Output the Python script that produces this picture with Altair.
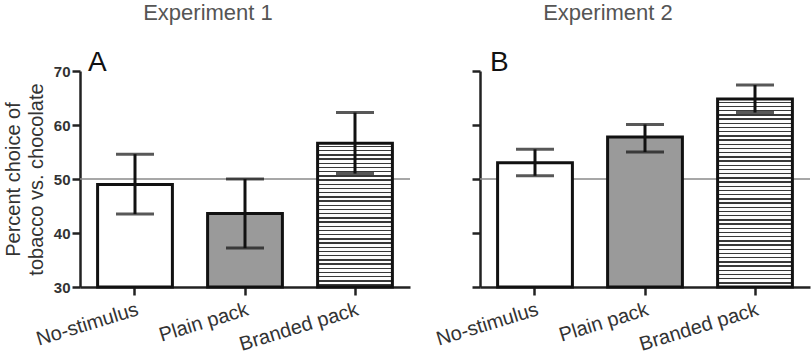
import altair as alt
import pandas as pd

categories = ["No-stimulus", "Plain pack", "Branded pack"]
exp1_mean = [49.0, 43.6, 56.6]
exp1_low = [43.5, 37.2, 51.0]
exp1_high = [54.6, 50.0, 62.3]
exp2_mean = [53.0, 57.8, 64.8]
exp2_low = [50.6, 55.0, 62.3]
exp2_high = [55.5, 60.1, 67.4]
panel_titles = ["Experiment 1", "Experiment 2"]
panel_letters = ["A", "B"]
y_ticks = [30, 40, 50, 60, 70]
reference_value = [50]
y_title = ["Percent choice of", "tobacco vs. chocolate"]

W, H = 330, 216
Y_MIN, Y_MAX = 30, 70
FONT = "Liberation Sans"


def stripes(value):
    h = (value - Y_MIN) / (Y_MAX - Y_MIN) * H
    period, thick, dark = 4.2, 1.4, "#3a3a3a"
    stops = [{"offset": 0, "color": "white"}]
    pos = 2.5
    while pos + thick < h - 1:
        a, b = pos / h, (pos + thick) / h
        stops += [
            {"offset": a, "color": "white"},
            {"offset": a, "color": dark},
            {"offset": b, "color": dark},
            {"offset": b, "color": "white"},
        ]
        pos += period
    stops.append({"offset": 1, "color": "white"})
    return {"gradient": "linear", "x1": 0, "y1": 0, "x2": 0, "y2": 1, "stops": stops}


def panel(means, lows, highs, title, letter, first, letter_x):
    df = pd.DataFrame({"cat": categories, "mean": means, "low": lows, "high": highs})
    base = alt.Chart(df)
    x = alt.X(
        "cat:N",
        sort=categories,
        scale=alt.Scale(domain=categories, paddingInner=0.32, paddingOuter=0.16),
        axis=alt.Axis(
            title=None,
            labelAngle=343,
            labelAlign="right",
            labelBaseline="top",
            labelFontSize=20,
            labelFont=FONT,
            labelColor="#333",
            labelPadding=4,
            tickSize=8,
            tickWidth=2.5,
            tickColor="#222",
            domainColor="#222",
            domainWidth=2.5,
        ),
    )
    yscale = alt.Scale(domain=[Y_MIN, Y_MAX], nice=False, zero=False)
    yaxis = alt.Axis(
        values=y_ticks,
        grid=False,
        labels=first,
        title=y_title if first else None,
        titleFontSize=20,
        titleFont=FONT,
        titleFontWeight="normal",
        titleColor="#333",
        titlePadding=7,
        titleLineHeight=23,
        labelFontSize=15,
        labelFontWeight="bold",
        labelFont=FONT,
        labelColor="#333",
        labelPadding=2,
        tickSize=8,
        tickWidth=2.5,
        tickColor="#222",
        domainColor="#222",
        domainWidth=2.5,
    )
    y = alt.Y("mean:Q", scale=yscale, axis=yaxis)

    ref = alt.Chart(pd.DataFrame({"v": reference_value})).mark_rule(
        color="#8a8a8a", strokeWidth=1.5
    ).encode(y=alt.Y("v:Q", scale=yscale))

    plain_bars = base.transform_filter(
        alt.datum.cat != "Branded pack"
    ).mark_bar(stroke="#111", strokeWidth=3).encode(
        x=x,
        y=y,
        y2=alt.datum(Y_MIN),
        fill=alt.Fill(
            "cat:N",
            scale=alt.Scale(domain=["No-stimulus", "Plain pack"], range=["white", "#9a9a9a"]),
            legend=None,
        ),
    )
    branded_val = means[categories.index("Branded pack")]
    branded = base.transform_filter(
        alt.datum.cat == "Branded pack"
    ).mark_bar(stroke="#111", strokeWidth=3, fill=stripes(branded_val)).encode(
        x=x, y=y, y2=alt.datum(Y_MIN)
    )
    err = base.mark_rule(color="#111", strokeWidth=3).encode(
        x=x, y=alt.Y("low:Q", scale=yscale), y2="high:Q"
    )
    cap_lo = base.mark_tick(color="#111", thickness=3, size=38).encode(
        x=x, y=alt.Y("low:Q", scale=yscale)
    )
    cap_hi = base.mark_tick(color="#111", thickness=3, size=38).encode(
        x=x, y=alt.Y("high:Q", scale=yscale)
    )
    lab = alt.Chart(pd.DataFrame({"t": [letter]})).mark_text(
        align="left", baseline="alphabetic", fontSize=28, font=FONT, color="#111"
    ).encode(text="t:N", x=alt.value(letter_x), y=alt.value(0))

    return alt.layer(ref, plain_bars, branded, err, cap_lo, cap_hi, lab).properties(
        width=W,
        height=H,
        title=alt.TitleParams(
            title,
            fontSize=22,
            font=FONT,
            fontWeight="normal",
            color="#555",
            anchor="middle",
            frame="group",
            dx=-37,
            offset=24,
        ),
    )


left = panel(exp1_mean, exp1_low, exp1_high, panel_titles[0], panel_letters[0], True, 8)
right = panel(exp2_mean, exp2_low, exp2_high, panel_titles[1], panel_letters[1], False, 10)

chart = alt.hconcat(left, right, spacing=70, bounds="flush").properties(
    padding={"left": 3, "top": 2, "right": 0, "bottom": 0},
).configure_view(stroke=None)

chart.save("out.html", embed_options={"renderer": "svg", "actions": False})
